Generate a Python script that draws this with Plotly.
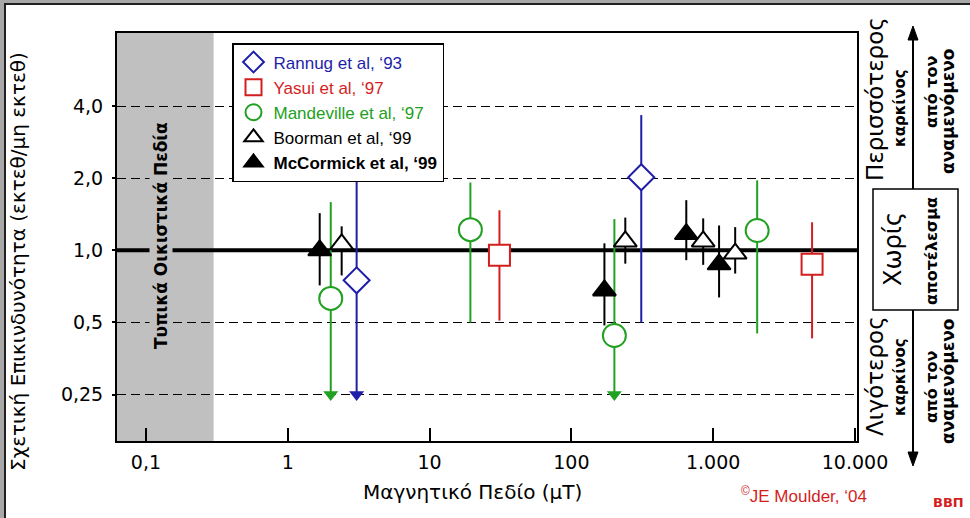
import math
import plotly.graph_objects as go

# ---------------- data ----------------
x_tickvals = [0.1, 1, 10, 100, 1000, 10000]
x_ticktext = ["0,1", "1", "10", "100", "1.000", "10.000"]
y_tickvals = [0.25, 0.5, 1, 2, 4]
y_ticktext = ["0,25", "0,5", "1,0", "2,0", "4,0"]

rannug_x = [3.06, 311]
rannug_y = [0.75, 2.02]
rannug_hi = [1.96, 3.67]
rannug_lo = [0.25, 0.50]
rannug_below = [True, False]

yasui_x = [31.1, 4980]
yasui_y = [0.953, 0.874]
yasui_hi = [1.47, 1.31]
yasui_lo = [0.509, 0.429]
yasui_below = [False, False]

mand_x = [2.01, 19.4, 201, 2042]
mand_y = [0.63, 1.22, 0.441, 1.21]
mand_hi = [1.59, 1.92, 1.35, 1.96]
mand_lo = [0.25, 0.50, 0.25, 0.45]
mand_below = [True, False, True, False]

boor_x = [2.4, 240, 850, 1429]
boor_y = [1.06, 1.09, 1.09, 0.97]
boor_hi = [1.26, 1.37, 1.36, 1.25]
boor_lo = [0.786, 0.88, 0.87, 0.80]
boor_below = [False, False, False, False]

mcc_x = [1.68, 171, 646, 1100]
mcc_y = [1.0, 0.68, 1.17, 0.874]
mcc_hi = [1.43, 1.07, 1.62, 1.27]
mcc_lo = [0.714, 0.486, 0.91, 0.636]
mcc_below = [False, False, False, False]

residential_max = 0.3      # "typical residential fields" upper limit (µT)
reference_rr = 1.0          # no-effect line

# ---------------- styling ----------------
BLUE = "#1e1ea8"
RED = "#d41e1e"
GREEN = "#22a022"
BLACK = "#000000"
SHADE = "#c0c0c0"

W, H = 970, 518
L, R, T, B = 117, 857, 33, 441
XRANGE = [-1.204, 4.014]
YRANGE = [math.log10(0.16), math.log10(8.08)]

def px2x(px):
    return (px - L) / (R - L)

def py2y(py):
    return (B - py) / (B - T)

fig = go.Figure()

def add_study(name, xs, ys, hi, lo, below, symbol, color, fill, size, ecolor):
    fig.add_trace(go.Scatter(
        x=xs, y=ys, mode="markers", name=name,
        marker=dict(symbol=symbol, size=size, color=fill,
                    line=dict(color=color, width=2)),
        error_y=dict(type="data", symmetric=False,
                     array=[h - y for h, y in zip(hi, ys)],
                     arrayminus=[y - l for y, l in zip(ys, lo)],
                     color=ecolor, thickness=2, width=0),
        hoverinfo="x+y",
    ))
    ax = [x for x, b in zip(xs, below) if b]
    ay = [l for l, b in zip(lo, below) if b]
    if ax:
        fig.add_trace(go.Scatter(
            x=ax, y=ay, mode="markers", showlegend=False,
            marker=dict(symbol="triangle-down", size=13, color=color,
                        line=dict(width=0)),
            hoverinfo="skip",
        ))

add_study('<span style="color:%s">Rannug et al, ‘93</span>' % BLUE,
          rannug_x, rannug_y, rannug_hi, rannug_lo, rannug_below,
          "diamond", BLUE, "white", 20, BLUE)
add_study('<span style="color:%s">Yasui et al, ‘97</span>' % RED,
          yasui_x, yasui_y, yasui_hi, yasui_lo, yasui_below,
          "square", RED, "white", 21, RED)
add_study('<span style="color:%s">Mandeville et al, ‘97</span>' % GREEN,
          mand_x, mand_y, mand_hi, mand_lo, mand_below,
          "circle", GREEN, "white", 23, GREEN)
add_study('Boorman et al, ‘99',
          boor_x, boor_y, boor_hi, boor_lo, boor_below,
          "triangle-up", BLACK, "white", 20, BLACK)
add_study('<b>McCormick et al, ‘99</b>',
          mcc_x, mcc_y, mcc_hi, mcc_lo, mcc_below,
          "triangle-up", BLACK, BLACK, 20, BLACK)

shapes = []
# shaded typical residential field band
shapes.append(dict(type="rect", xref="x", yref="paper",
                   x0=10 ** XRANGE[0], x1=residential_max, y0=0, y1=1,
                   fillcolor=SHADE, line=dict(width=0), layer="below"))
# no-effect line
shapes.append(dict(type="line", xref="paper", yref="y", x0=0, x1=1,
                   y0=reference_rr, y1=reference_rr,
                   line=dict(color=BLACK, width=4), layer="between"))
# right side arrow + box
ax_x = px2x(913)
shapes.append(dict(type="line", xref="paper", yref="paper",
                   x0=ax_x, x1=ax_x, y0=py2y(38), y1=py2y(189),
                   line=dict(color=BLACK, width=2)))
shapes.append(dict(type="line", xref="paper", yref="paper",
                   x0=ax_x, x1=ax_x, y0=py2y(310), y1=py2y(454),
                   line=dict(color=BLACK, width=2)))
hw = 5 / (R - L)
shapes.append(dict(type="path", xref="paper", yref="paper",
                   path="M %f,%f L %f,%f L %f,%f Z" % (ax_x, py2y(26), ax_x - hw, py2y(40), ax_x + hw, py2y(40)),
                   fillcolor=BLACK, line=dict(color=BLACK, width=1)))
shapes.append(dict(type="path", xref="paper", yref="paper",
                   path="M %f,%f L %f,%f L %f,%f Z" % (ax_x, py2y(466), ax_x - hw, py2y(452), ax_x + hw, py2y(452)),
                   fillcolor=BLACK, line=dict(color=BLACK, width=1)))
shapes.append(dict(type="rect", xref="paper", yref="paper",
                   x0=px2x(873), x1=px2x(958), y0=py2y(310), y1=py2y(189),
                   fillcolor="white", line=dict(color=BLACK, width=1.5)))
# outer frame (top and left)
shapes.append(dict(type="rect", xref="paper", yref="paper",
                   x0=px2x(0), x1=px2x(4), y0=py2y(518), y1=py2y(0),
                   fillcolor="#a8a8a8", line=dict(width=0)))
shapes.append(dict(type="rect", xref="paper", yref="paper",
                   x0=px2x(0), x1=px2x(970), y0=py2y(3), y1=py2y(0),
                   fillcolor="#a8a8a8", line=dict(width=0)))
shapes.append(dict(type="line", xref="paper", yref="paper",
                   x0=px2x(5), x1=px2x(5), y0=py2y(518), y1=py2y(4),
                   line=dict(color="#202020", width=2)))
shapes.append(dict(type="line", xref="paper", yref="paper",
                   x0=px2x(4), x1=px2x(970), y0=py2y(4), y1=py2y(4),
                   line=dict(color="#202020", width=2)))

DV = "DejaVu Sans"

def ann(text, px, py, size, angle=0, color=BLACK, family=DV, **kw):
    d = dict(text=text, xref="paper", yref="paper", x=px2x(px), y=py2y(py),
             showarrow=False, textangle=angle, xanchor="center", yanchor="middle",
             font=dict(family=family, size=size, color=color))
    d.update(kw)
    return d

annotations = [
    ann("Σχετική Επικινδυνότητα (εκτεθ/μη εκτεθ)", 18, 262, 20, -90),
    ann("Μαγνητικό Πεδίο (µT)", 472, 492, 20),
    ann("<b>Τυπικά Οικιστικά Πεδία</b>", 161, 236, 17, -90, bgcolor=SHADE),
    ann("Περισσότερος", 875, 99, 23, -90),
    ann("<b>καρκίνος</b>", 900, 108, 15, -90),
    ann("<b>από τον</b>", 931, 92, 16, -90),
    ann("<b>αναμενόμενο</b>", 948, 112, 17, -90),
    ann("Χωρίς", 893, 249, 24, -90),
    ann("<b>αποτέλεσμα</b>", 931, 251, 16, -90),
    ann("Λιγότερος", 875, 376, 23, -90),
    ann("<b>καρκίνος</b>", 900, 377, 15, -90),
    ann("<b>από τον</b>", 931, 387, 16, -90),
    ann("<b>αναμενόμενο</b>", 948, 382, 17, -90),
    ann("<sup>©</sup>JE Moulder, ‘04", 804, 495, 17, color=RED, family="Liberation Sans"),
    ann("<b>ΒΒΠ</b>", 948, 503, 13, color=RED),
]

fig.update_layout(
    width=W, height=H,
    margin=dict(l=L, r=W - R, t=T, b=H - B, pad=0),
    paper_bgcolor="white", plot_bgcolor="white",
    font=dict(family=DV, color=BLACK),
    showlegend=True,
    legend=dict(x=px2x(232), y=py2y(43), xanchor="left", yanchor="top",
                bgcolor="white", bordercolor=BLACK, borderwidth=1.5,
                font=dict(family="Liberation Sans", size=17, color=BLACK),
                tracegroupgap=0, itemsizing="trace", itemwidth=30),
    xaxis=dict(type="log", range=XRANGE, tickvals=x_tickvals, ticktext=x_ticktext,
               ticks="inside", ticklen=13, tickwidth=1.5, tickcolor=BLACK,
               showgrid=False, showline=True, linecolor=BLACK, linewidth=2, mirror=True,
               tickfont=dict(family=DV, size=19, color=BLACK), ticklabelstandoff=3,
               zeroline=False),
    yaxis=dict(type="log", range=YRANGE, tickvals=y_tickvals, ticktext=y_ticktext,
               ticks="outside", ticklen=3, tickwidth=1.5, tickcolor=BLACK,
               showgrid=True, gridcolor=BLACK, gridwidth=1, griddash="9px,5px",
               showline=True, linecolor=BLACK, linewidth=2, mirror=True,
               tickfont=dict(family=DV, size=19, color=BLACK), ticklabelstandoff=5,
               zeroline=False),
    shapes=shapes,
    annotations=annotations,
)

fig.write_html("out.html")
